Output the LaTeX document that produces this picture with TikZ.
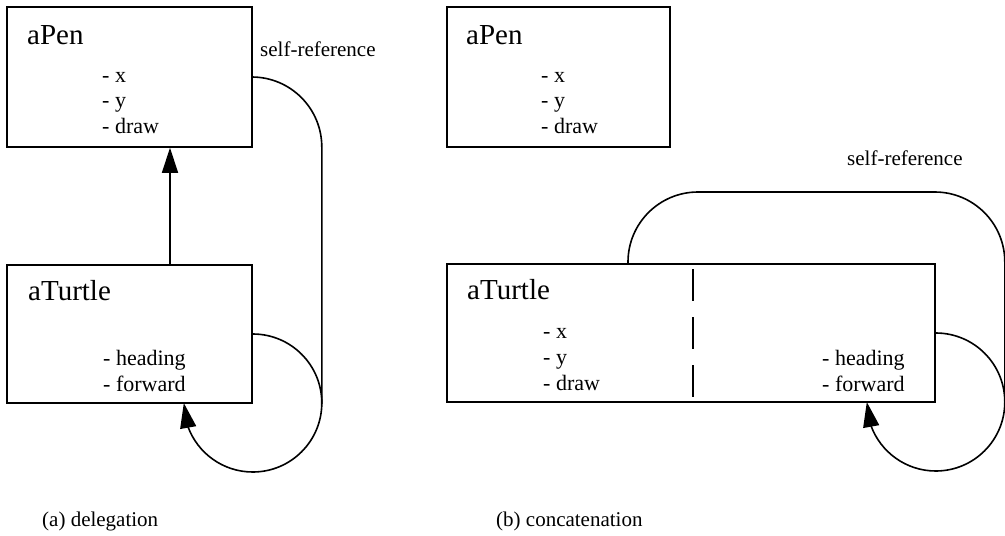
\documentclass[tikz,border=0pt]{standalone}
\usepackage{fontspec}
\setmainfont{Liberation Serif}
\usetikzlibrary{arrows.meta,bending,calc}
\begin{document}
\begin{tikzpicture}[x=1pt,y=-1pt,
  box/.style={draw,line width=1.6pt,inner sep=0pt,rectangle},
  title/.style={anchor=base west,inner sep=0pt,font=\fontsize{29}{29}\selectfont},
  item/.style={anchor=base west,inner sep=0pt,font=\fontsize{22}{22}\selectfont},
  lbl/.style={anchor=base west,inner sep=0pt,font=\fontsize{21}{21}\selectfont},
  line/.style={line width=1.6pt},
  arr/.style={line width=1.6pt,-{Triangle[length=25pt,width=16pt,flex]}}]
\useasboundingbox (0,0) rectangle (1005,536);
% ---------- (a) delegation ----------
\node[box,minimum width=245pt,minimum height=140pt] (lpen) at (129.5,77) {};
\node[box,minimum width=245pt,minimum height=138pt] (lturtle) at (129.5,334) {};
\node[title] (lpent) at (27,44) {aPen};
\node[item] (lpx) at (102,82) {- x};
\node[item] (lpy) at (102,107) {- y};
\node[item] (lpd) at (102,133) {- draw};
\node[title] (ltt) at (28,300) {aTurtle};
\node[item] (lth) at (103,365) {- heading};
\node[item] (ltf) at (103,391) {- forward};
\node[lbl] (lself) at (260,56) {self-reference};
\node[lbl] (capa) at (42,526) {(a) delegation};
\coordinate (ax) at (170,0);
\coordinate (lloopr) at ($(lturtle.south east)+(69,0)$);
\draw[arr] (lturtle.north -| ax) -- (lpen.south -| ax);
\draw[line,rounded corners=70pt] (lpen.east) -| (lloopr);
\draw[arr] (lturtle.east) arc[start angle=-90,end angle=180,radius=69];
% ---------- (b) concatenation ----------
\node[box,minimum width=223pt,minimum height=140pt] (rpen) at (558.5,77) {};
\node[box,minimum width=488pt,minimum height=138pt] (rturtle) at (691,333) {};
\node[title] (rpent) at (466,44) {aPen};
\node[item] (rpx) at (541,82) {- x};
\node[item] (rpy) at (541,107) {- y};
\node[item] (rpd) at (541,133) {- draw};
\node[title] (rtt) at (467,299) {aTurtle};
\node[item] (rtx) at (543,338) {- x};
\node[item] (rty) at (543,364) {- y};
\node[item] (rtd) at (543,390) {- draw};
\node[item] (rth) at (822,365) {- heading};
\node[item] (rtf) at (822,391) {- forward};
\node[lbl] (rself) at (847,165) {self-reference};
\node[lbl] (capb) at (496,526) {(b) concatenation};
\coordinate (sx) at (628,0);
\coordinate (rloopr) at ($(rturtle.south east)+(69,0)$);
\coordinate (rcorner) at (rloopr |- 0,192);
\coordinate (dtop) at (693,269);
\coordinate (dbot) at (693,398);
\draw[line,dash pattern=on 32pt off 16pt] (dtop) -- (dbot);
\draw[line,rounded corners=70pt] (rturtle.north -| sx) |- (rcorner) -- (rloopr);
\draw[arr] (rturtle.east) arc[start angle=-90,end angle=180,radius=69];
\end{tikzpicture}
\end{document}
